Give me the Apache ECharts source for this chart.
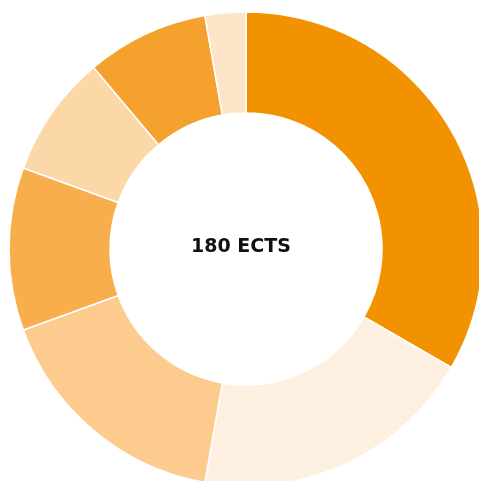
<!DOCTYPE html>
<html>
<head>
<meta charset="utf-8">
<script src="https://cdn.jsdelivr.net/npm/echarts@6/dist/echarts.min.js"></script>
<style>html,body{margin:0;padding:0;background:#fff}#c{width:479px;height:481px}</style>
</head>
<body>
<div id="c"></div>
<script>
const categories = ['A', 'B', 'C', 'D', 'E', 'F', 'G'];
const values = [60, 35, 30, 20, 15, 15, 5];
const colors = ['#F39200', '#FEF0E1', '#FCCB8D', '#F8AE4D', '#FCD7A8', '#F5A12E', '#FDE4C8'];
const centerText = '180 ECTS';

const chart = echarts.init(document.getElementById('c'));
chart.setOption({
  animation: false,
  graphic: [{
    type: 'text',
    x: 241, y: 247,
    style: {
      text: centerText,
      fontFamily: 'DejaVu Sans',
      fontWeight: 'bold',
      fontSize: 19,
      fill: '#111',
      align: 'center',
      verticalAlign: 'middle'
    }
  }],
  series: [{
    type: 'pie',
    center: [246, 249],
    radius: [136, 237],
    startAngle: 90,
    clockwise: true,
    label: { show: false },
    labelLine: { show: false },
    itemStyle: { borderColor: '#fff', borderWidth: 1.5 },
    data: categories.map((c, i) => ({ name: c, value: values[i], itemStyle: { color: colors[i] } }))
  }]
});
</script>
</body>
</html>
